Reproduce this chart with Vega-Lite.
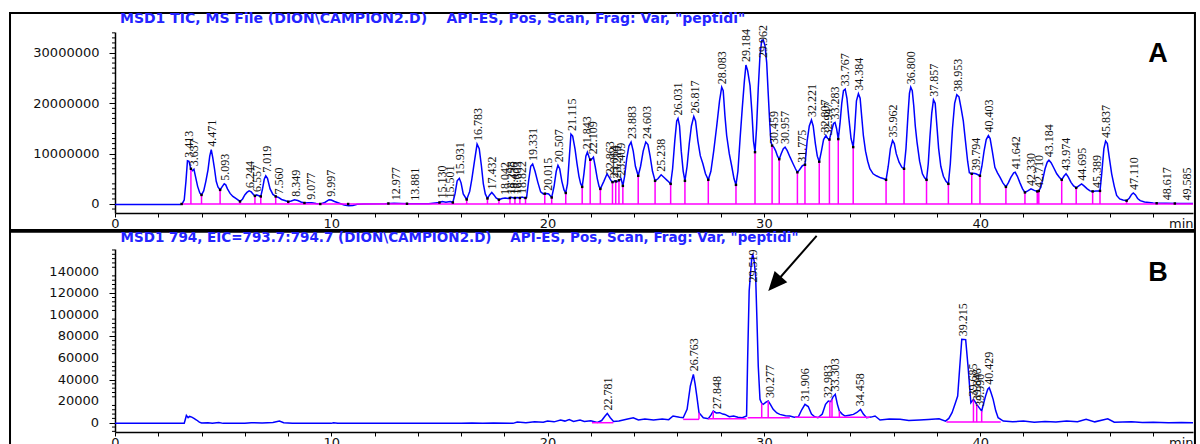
{
  "$schema": "https://vega.github.io/schema/vega-lite/v6.json",
  "background": "white",
  "padding": {"left": 9, "top": 11, "right": 0, "bottom": 0},
  "spacing": -2,
  "config": {
    "view": {"stroke": null},
    "axis": {
      "grid": false,
      "labelFont": "DejaVu Sans",
      "labelFontSize": 13,
      "labelColor": "#111111",
      "domainColor": "#000000",
      "domainWidth": 1.5,
      "tickColor": "#000000",
      "tickWidth": 1,
      "labelOverlap": false,
      "labelFlush": false
    }
  },
  "datasets": {
    "frameA": [{"x0": -4.854, "x1": 49.93, "y0": -5170000, "y1": 37950000}],
    "frameB": [{"x0": -4.854, "x1": 49.93, "y0": -24100, "y1": 176900}],
    "arrowB": [{"t0": 32.44, "t1": 30.57, "v0": 173100, "v1": 130340}],
    "minorA": [
      {"v":-1000000},{"v":1000000},{"v":2000000},{"v":3000000},{"v":4000000},{"v":6000000},{"v":7000000},{"v":8000000},{"v":9000000},{"v":11000000},{"v":12000000},{"v":13000000},{"v":14000000},{"v":16000000},{"v":17000000},{"v":18000000},{"v":19000000},{"v":21000000},{"v":22000000},{"v":23000000},{"v":24000000},{"v":26000000},{"v":27000000},{"v":28000000},{"v":29000000},{"v":31000000},{"v":32000000},{"v":33000000},{"v":34000000}
    ],
    "minorB": [
      {"v":-8000},{"v":-4000},{"v":4000},{"v":8000},{"v":12000},{"v":16000},{"v":24000},{"v":28000},{"v":32000},{"v":36000},{"v":44000},{"v":48000},{"v":52000},{"v":56000},{"v":64000},{"v":68000},{"v":72000},{"v":76000},{"v":84000},{"v":88000},{"v":92000},{"v":96000},{"v":104000},{"v":108000},{"v":112000},{"v":116000},{"v":124000},{"v":128000},{"v":132000},{"v":136000},{"v":144000},{"v":148000},{"v":152000},{"v":156000},{"v":160000}
    ],
    "majorB": [
      {"v":0},{"v":20000},{"v":40000},{"v":60000},{"v":80000},{"v":100000},{"v":120000},{"v":140000}
    ],
    "traceA": [
      {"t":0,"v":-100000},{"t":3.0,"v":-100000},{"t":3.1,"v":0},{"t":3.2,"v":800000},{"t":3.28,"v":4500000},{"t":3.35,"v":8600000},{"t":3.42,"v":8500000},{"t":3.5,"v":7000000},{"t":3.58,"v":6600000},{"t":3.65,"v":6900000},{"t":3.72,"v":5500000},{"t":3.82,"v":3500000},{"t":3.92,"v":2200000},{"t":4.0,"v":1800000},{"t":4.1,"v":2600000},{"t":4.2,"v":4500000},{"t":4.3,"v":6800000},{"t":4.38,"v":9500000},{"t":4.45,"v":10800000},{"t":4.52,"v":9200000},{"t":4.6,"v":7000000},{"t":4.68,"v":4500000},{"t":4.76,"v":3400000},{"t":4.86,"v":2800000},{"t":4.95,"v":3400000},{"t":5.05,"v":4000000},{"t":5.12,"v":3800000},{"t":5.2,"v":3000000},{"t":5.32,"v":2100000},{"t":5.45,"v":1500000},{"t":5.62,"v":1000000},{"t":5.78,"v":500000},{"t":5.9,"v":1000000},{"t":6.0,"v":1800000},{"t":6.1,"v":2300000},{"t":6.2,"v":2600000},{"t":6.3,"v":2400000},{"t":6.4,"v":1900000},{"t":6.47,"v":1600000},{"t":6.55,"v":1800000},{"t":6.62,"v":1700000},{"t":6.74,"v":1500000},{"t":6.82,"v":3000000},{"t":6.9,"v":4900000},{"t":6.97,"v":5600000},{"t":7.05,"v":5100000},{"t":7.17,"v":3000000},{"t":7.3,"v":1900000},{"t":7.43,"v":1500000},{"t":7.56,"v":1300000},{"t":7.7,"v":900000},{"t":7.85,"v":700000},{"t":8.01,"v":450000},{"t":8.15,"v":600000},{"t":8.3,"v":850000},{"t":8.45,"v":700000},{"t":8.6,"v":400000},{"t":8.76,"v":200000},{"t":8.95,"v":250000},{"t":9.1,"v":250000},{"t":9.3,"v":100000},{"t":9.5,"v":0},{"t":9.7,"v":300000},{"t":9.9,"v":850000},{"t":10.0,"v":800000},{"t":10.15,"v":500000},{"t":10.4,"v":100000},{"t":10.6,"v":-200000},{"t":10.8,"v":-350000},{"t":11.0,"v":-300000},{"t":11.2,"v":-50000},{"t":11.5,"v":0},{"t":12.5,"v":50000},{"t":12.9,"v":150000},{"t":13.2,"v":100000},{"t":13.6,"v":50000},{"t":14.5,"v":50000},{"t":15.0,"v":300000},{"t":15.13,"v":500000},{"t":15.3,"v":350000},{"t":15.5,"v":500000},{"t":15.62,"v":300000},{"t":15.72,"v":2000000},{"t":15.82,"v":4600000},{"t":15.92,"v":5100000},{"t":16.0,"v":4200000},{"t":16.1,"v":2000000},{"t":16.26,"v":900000},{"t":16.4,"v":2500000},{"t":16.5,"v":5000000},{"t":16.62,"v":8500000},{"t":16.74,"v":11900000},{"t":16.84,"v":11000000},{"t":16.94,"v":7600000},{"t":17.03,"v":4000000},{"t":17.12,"v":2000000},{"t":17.22,"v":1100000},{"t":17.32,"v":1800000},{"t":17.42,"v":2300000},{"t":17.52,"v":1800000},{"t":17.62,"v":1200000},{"t":17.75,"v":850000},{"t":17.9,"v":1100000},{"t":18.04,"v":1200000},{"t":18.18,"v":1100000},{"t":18.3,"v":1350000},{"t":18.45,"v":1200000},{"t":18.6,"v":1300000},{"t":18.72,"v":1200000},{"t":18.82,"v":1400000},{"t":18.95,"v":1200000},{"t":19.03,"v":1300000},{"t":19.12,"v":4500000},{"t":19.22,"v":7500000},{"t":19.31,"v":7950000},{"t":19.42,"v":6500000},{"t":19.55,"v":4300000},{"t":19.68,"v":2400000},{"t":19.8,"v":2000000},{"t":19.95,"v":2100000},{"t":20.05,"v":2000000},{"t":20.19,"v":1300000},{"t":20.3,"v":3500000},{"t":20.4,"v":6500000},{"t":20.48,"v":7700000},{"t":20.56,"v":7000000},{"t":20.66,"v":4500000},{"t":20.76,"v":2800000},{"t":20.84,"v":2200000},{"t":20.92,"v":4000000},{"t":21.0,"v":9000000},{"t":21.08,"v":13900000},{"t":21.16,"v":13500000},{"t":21.27,"v":10900000},{"t":21.36,"v":8000000},{"t":21.45,"v":5500000},{"t":21.53,"v":4000000},{"t":21.6,"v":3400000},{"t":21.68,"v":6000000},{"t":21.77,"v":9500000},{"t":21.84,"v":10300000},{"t":21.92,"v":9300000},{"t":21.98,"v":8700000},{"t":22.06,"v":9000000},{"t":22.12,"v":9300000},{"t":22.2,"v":7500000},{"t":22.3,"v":5000000},{"t":22.38,"v":3500000},{"t":22.44,"v":3000000},{"t":22.6,"v":4500000},{"t":22.75,"v":6000000},{"t":22.85,"v":5300000},{"t":22.94,"v":4600000},{"t":23.02,"v":4300000},{"t":23.1,"v":4600000},{"t":23.2,"v":4400000},{"t":23.3,"v":4700000},{"t":23.4,"v":5000000},{"t":23.48,"v":3600000},{"t":23.56,"v":5500000},{"t":23.66,"v":9000000},{"t":23.76,"v":11500000},{"t":23.86,"v":12300000},{"t":23.96,"v":10500000},{"t":24.06,"v":7500000},{"t":24.19,"v":5600000},{"t":24.3,"v":7500000},{"t":24.42,"v":10500000},{"t":24.54,"v":12300000},{"t":24.64,"v":11800000},{"t":24.74,"v":9500000},{"t":24.85,"v":6500000},{"t":24.97,"v":4600000},{"t":25.1,"v":5000000},{"t":25.25,"v":5800000},{"t":25.4,"v":5200000},{"t":25.55,"v":4600000},{"t":25.69,"v":4000000},{"t":25.78,"v":7000000},{"t":25.88,"v":12500000},{"t":25.97,"v":16500000},{"t":26.03,"v":17000000},{"t":26.1,"v":15500000},{"t":26.18,"v":10500000},{"t":26.27,"v":6500000},{"t":26.35,"v":4600000},{"t":26.45,"v":7500000},{"t":26.55,"v":12000000},{"t":26.65,"v":15500000},{"t":26.76,"v":17400000},{"t":26.84,"v":16500000},{"t":26.95,"v":12500000},{"t":27.06,"v":9600000},{"t":27.18,"v":8000000},{"t":27.3,"v":6000000},{"t":27.43,"v":4800000},{"t":27.55,"v":6500000},{"t":27.68,"v":10500000},{"t":27.82,"v":15500000},{"t":27.95,"v":20500000},{"t":28.05,"v":23200000},{"t":28.12,"v":22500000},{"t":28.2,"v":17500000},{"t":28.28,"v":13600000},{"t":28.4,"v":10000000},{"t":28.51,"v":7600000},{"t":28.62,"v":5000000},{"t":28.71,"v":3800000},{"t":28.8,"v":6500000},{"t":28.9,"v":13000000},{"t":29.0,"v":19000000},{"t":29.1,"v":24500000},{"t":29.17,"v":27600000},{"t":29.25,"v":26500000},{"t":29.36,"v":23500000},{"t":29.45,"v":18000000},{"t":29.52,"v":12500000},{"t":29.59,"v":10300000},{"t":29.66,"v":15000000},{"t":29.74,"v":23000000},{"t":29.82,"v":29500000},{"t":29.9,"v":32500000},{"t":29.97,"v":32600000},{"t":30.05,"v":31500000},{"t":30.13,"v":28100000},{"t":30.2,"v":22000000},{"t":30.26,"v":17000000},{"t":30.32,"v":12500000},{"t":30.38,"v":11600000},{"t":30.46,"v":11300000},{"t":30.55,"v":10500000},{"t":30.63,"v":9500000},{"t":30.71,"v":8900000},{"t":30.8,"v":10000000},{"t":30.9,"v":11000000},{"t":30.98,"v":11300000},{"t":31.08,"v":10600000},{"t":31.21,"v":9300000},{"t":31.35,"v":8000000},{"t":31.46,"v":7000000},{"t":31.55,"v":6300000},{"t":31.65,"v":6800000},{"t":31.78,"v":7600000},{"t":31.9,"v":7800000},{"t":32.0,"v":12500000},{"t":32.1,"v":15500000},{"t":32.2,"v":16700000},{"t":32.28,"v":15500000},{"t":32.38,"v":12000000},{"t":32.47,"v":9500000},{"t":32.56,"v":8400000},{"t":32.66,"v":10500000},{"t":32.76,"v":12800000},{"t":32.87,"v":13600000},{"t":32.95,"v":13000000},{"t":33.03,"v":12800000},{"t":33.13,"v":14500000},{"t":33.22,"v":16000000},{"t":33.29,"v":16200000},{"t":33.36,"v":15000000},{"t":33.44,"v":12900000},{"t":33.52,"v":16000000},{"t":33.6,"v":20000000},{"t":33.68,"v":22500000},{"t":33.76,"v":22800000},{"t":33.84,"v":21000000},{"t":33.93,"v":17000000},{"t":34.03,"v":13000000},{"t":34.13,"v":11300000},{"t":34.2,"v":15000000},{"t":34.28,"v":20500000},{"t":34.37,"v":21900000},{"t":34.45,"v":21000000},{"t":34.52,"v":17500000},{"t":34.6,"v":13600000},{"t":34.7,"v":10500000},{"t":34.8,"v":8500000},{"t":34.9,"v":7000000},{"t":35.05,"v":6000000},{"t":35.2,"v":5600000},{"t":35.4,"v":5200000},{"t":35.55,"v":5000000},{"t":35.65,"v":4800000},{"t":35.75,"v":7500000},{"t":35.85,"v":11000000},{"t":35.95,"v":12600000},{"t":36.03,"v":12000000},{"t":36.12,"v":10000000},{"t":36.25,"v":8300000},{"t":36.38,"v":7300000},{"t":36.48,"v":7000000},{"t":36.57,"v":11000000},{"t":36.66,"v":17500000},{"t":36.73,"v":22000000},{"t":36.79,"v":23200000},{"t":36.86,"v":22500000},{"t":36.93,"v":19500000},{"t":37.0,"v":15500000},{"t":37.08,"v":12300000},{"t":37.2,"v":8500000},{"t":37.33,"v":6000000},{"t":37.43,"v":5200000},{"t":37.52,"v":4800000},{"t":37.6,"v":8000000},{"t":37.68,"v":13500000},{"t":37.76,"v":18000000},{"t":37.84,"v":20700000},{"t":37.92,"v":20000000},{"t":38.0,"v":15500000},{"t":38.08,"v":11000000},{"t":38.18,"v":7500000},{"t":38.3,"v":5500000},{"t":38.42,"v":4500000},{"t":38.53,"v":4000000},{"t":38.62,"v":8000000},{"t":38.72,"v":15000000},{"t":38.82,"v":20000000},{"t":38.92,"v":21700000},{"t":39.02,"v":21300000},{"t":39.12,"v":19000000},{"t":39.22,"v":16500000},{"t":39.32,"v":12500000},{"t":39.42,"v":8500000},{"t":39.5,"v":6200000},{"t":39.61,"v":6000000},{"t":39.7,"v":6100000},{"t":39.8,"v":6000000},{"t":39.9,"v":5800000},{"t":39.99,"v":5600000},{"t":40.08,"v":7500000},{"t":40.18,"v":10500000},{"t":40.28,"v":12800000},{"t":40.38,"v":13600000},{"t":40.46,"v":13000000},{"t":40.56,"v":10500000},{"t":40.68,"v":7300000},{"t":40.8,"v":6200000},{"t":40.92,"v":5300000},{"t":41.05,"v":4200000},{"t":41.19,"v":3400000},{"t":41.3,"v":4200000},{"t":41.42,"v":5300000},{"t":41.55,"v":6200000},{"t":41.62,"v":6300000},{"t":41.72,"v":5500000},{"t":41.84,"v":4200000},{"t":41.96,"v":3000000},{"t":42.07,"v":2300000},{"t":42.2,"v":2600000},{"t":42.35,"v":3000000},{"t":42.5,"v":2700000},{"t":42.64,"v":2500000},{"t":42.71,"v":2600000},{"t":42.8,"v":3300000},{"t":42.9,"v":5000000},{"t":43.0,"v":7000000},{"t":43.1,"v":8300000},{"t":43.18,"v":8700000},{"t":43.28,"v":8200000},{"t":43.4,"v":7200000},{"t":43.54,"v":6000000},{"t":43.66,"v":5300000},{"t":43.77,"v":4800000},{"t":43.87,"v":5500000},{"t":43.97,"v":6000000},{"t":44.07,"v":5400000},{"t":44.2,"v":4300000},{"t":44.32,"v":3600000},{"t":44.44,"v":3200000},{"t":44.56,"v":3600000},{"t":44.69,"v":4000000},{"t":44.8,"v":3600000},{"t":44.95,"v":3000000},{"t":45.08,"v":2600000},{"t":45.2,"v":2500000},{"t":45.35,"v":2600000},{"t":45.45,"v":2600000},{"t":45.54,"v":2600000},{"t":45.62,"v":6000000},{"t":45.72,"v":11000000},{"t":45.8,"v":12500000},{"t":45.88,"v":12000000},{"t":45.96,"v":9500000},{"t":46.08,"v":6000000},{"t":46.2,"v":3500000},{"t":46.31,"v":1700000},{"t":46.45,"v":1000000},{"t":46.6,"v":800000},{"t":46.77,"v":660000},{"t":46.9,"v":1200000},{"t":47.0,"v":1900000},{"t":47.08,"v":2200000},{"t":47.18,"v":1800000},{"t":47.28,"v":1100000},{"t":47.4,"v":660000},{"t":47.6,"v":400000},{"t":48.0,"v":200000},{"t":48.6,"v":150000},{"t":49.2,"v":100000},{"t":49.84,"v":100000}
    ],
    "baseA": [
      {"t0":3.08,"t1":49.84,"b":0}
    ],
    "cutsA": [
      {"t":3.08,"b":0,"h":0},{"t":3.51,"b":0,"h":7000000},{"t":4.0,"b":0,"h":1800000},{"t":4.86,"b":0,"h":2800000},{"t":5.78,"b":0,"h":500000},{"t":6.47,"b":0,"h":1600000},{"t":6.74,"b":0,"h":1500000},{"t":7.43,"b":0,"h":1500000},{"t":8.01,"b":0,"h":450000},{"t":8.76,"b":0,"h":200000},{"t":9.49,"b":0,"h":0},{"t":10.78,"b":0,"h":0},{"t":12.64,"b":0,"h":100000},{"t":13.5,"b":0,"h":50000},{"t":15.0,"b":0,"h":300000},{"t":15.62,"b":0,"h":300000},{"t":16.26,"b":0,"h":900000},{"t":17.22,"b":0,"h":1100000},{"t":17.75,"b":0,"h":850000},{"t":18.26,"b":0,"h":1200000},{"t":18.49,"b":0,"h":1200000},{"t":18.72,"b":0,"h":1200000},{"t":18.98,"b":0,"h":1200000},{"t":19.87,"b":0,"h":2050000},{"t":20.19,"b":0,"h":1300000},{"t":20.84,"b":0,"h":2200000},{"t":21.6,"b":0,"h":3400000},{"t":21.97,"b":0,"h":8800000},{"t":22.44,"b":0,"h":3000000},{"t":23.0,"b":0,"h":4350000},{"t":23.15,"b":0,"h":4500000},{"t":23.3,"b":0,"h":4700000},{"t":23.48,"b":0,"h":3600000},{"t":24.19,"b":0,"h":5600000},{"t":24.97,"b":0,"h":4600000},{"t":25.69,"b":0,"h":4000000},{"t":26.35,"b":0,"h":4600000},{"t":27.43,"b":0,"h":4800000},{"t":28.71,"b":0,"h":3800000},{"t":29.59,"b":0,"h":10300000},{"t":30.38,"b":0,"h":11600000},{"t":30.71,"b":0,"h":8900000},{"t":31.55,"b":0,"h":6300000},{"t":31.9,"b":0,"h":7800000},{"t":32.56,"b":0,"h":8400000},{"t":33.03,"b":0,"h":12800000},{"t":33.44,"b":0,"h":12900000},{"t":34.13,"b":0,"h":11300000},{"t":35.65,"b":0,"h":4800000},{"t":36.48,"b":0,"h":7000000},{"t":37.52,"b":0,"h":4800000},{"t":38.53,"b":0,"h":4000000},{"t":39.61,"b":0,"h":6000000},{"t":39.99,"b":0,"h":5600000},{"t":41.19,"b":0,"h":3400000},{"t":42.07,"b":0,"h":2300000},{"t":42.64,"b":0,"h":2500000},{"t":42.71,"b":0,"h":2600000},{"t":43.77,"b":0,"h":4800000},{"t":44.44,"b":0,"h":3200000},{"t":45.2,"b":0,"h":2500000},{"t":45.54,"b":0,"h":2600000},{"t":46.77,"b":0,"h":660000},{"t":48.16,"b":0,"h":150000},{"t":49.0,"b":0,"h":100000}
    ],
    "peaksA": [
      {"t":3.413,"h":8600000},{"t":3.637,"h":6900000},{"t":4.471,"h":10800000},{"t":5.093,"h":4000000},{"t":6.244,"h":2600000},{"t":6.557,"h":1800000},{"t":7.019,"h":5600000},{"t":7.56,"h":1300000},{"t":8.349,"h":850000},{"t":9.077,"h":250000},{"t":9.997,"h":850000},{"t":12.977,"h":150000},{"t":13.881,"h":50000},{"t":15.13,"h":500000},{"t":15.501,"h":500000},{"t":15.931,"h":5100000},{"t":16.783,"h":11900000},{"t":17.432,"h":2300000},{"t":18.042,"h":1200000},{"t":18.298,"h":1350000},{"t":18.436,"h":1250000},{"t":18.603,"h":1300000},{"t":18.822,"h":1400000},{"t":19.331,"h":7950000},{"t":20.015,"h":2050000},{"t":20.507,"h":7700000},{"t":21.115,"h":13900000},{"t":21.843,"h":10300000},{"t":22.109,"h":9300000},{"t":22.863,"h":5300000},{"t":23.064,"h":4500000},{"t":23.219,"h":4450000},{"t":23.409,"h":5000000},{"t":23.883,"h":12300000},{"t":24.603,"h":12300000},{"t":25.238,"h":5800000},{"t":26.031,"h":17000000},{"t":26.817,"h":17400000},{"t":28.083,"h":23200000},{"t":29.184,"h":27600000},{"t":29.962,"h":32600000},{"t":30.459,"h":11300000},{"t":30.957,"h":11300000},{"t":31.775,"h":7600000},{"t":32.221,"h":16700000},{"t":32.807,"h":13600000},{"t":32.947,"h":13000000},{"t":33.283,"h":16200000},{"t":33.767,"h":22800000},{"t":34.384,"h":21900000},{"t":35.962,"h":12600000},{"t":36.8,"h":23200000},{"t":37.857,"h":20700000},{"t":38.953,"h":21700000},{"t":39.794,"h":6000000},{"t":40.403,"h":13600000},{"t":41.642,"h":6300000},{"t":42.33,"h":3000000},{"t":42.71,"h":2600000},{"t":43.184,"h":8700000},{"t":43.974,"h":6000000},{"t":44.695,"h":4000000},{"t":45.389,"h":2600000},{"t":45.837,"h":12500000},{"t":47.11,"h":2200000},{"t":48.617,"h":150000},{"t":49.585,"h":100000}
    ],
    "traceB": [
      {"t":0,"v":-600},{"t":3.2,"v":-600},{"t":3.25,"v":3000},{"t":3.3,"v":6800},{"t":3.38,"v":4600},{"t":3.45,"v":5800},{"t":3.55,"v":5200},{"t":3.65,"v":4000},{"t":3.77,"v":2500},{"t":3.9,"v":600},{"t":4.0,"v":-300},{"t":4.3,"v":0},{"t":4.5,"v":-500},{"t":4.8,"v":200},{"t":5.0,"v":-600},{"t":5.5,"v":-400},{"t":6.0,"v":-600},{"t":6.3,"v":0},{"t":6.8,"v":-300},{"t":7.3,"v":300},{"t":7.6,"v":1500},{"t":7.8,"v":0},{"t":8.2,"v":-600},{"t":10.0,"v":-600},{"t":10.1,"v":0},{"t":10.3,"v":-600},{"t":16.0,"v":-600},{"t":16.5,"v":-300},{"t":17.0,"v":-600},{"t":17.5,"v":-300},{"t":18.4,"v":-600},{"t":18.6,"v":600},{"t":19.0,"v":0},{"t":19.4,"v":800},{"t":19.8,"v":500},{"t":20.0,"v":1500},{"t":20.3,"v":800},{"t":20.6,"v":2500},{"t":20.8,"v":1500},{"t":21.0,"v":3000},{"t":21.2,"v":1200},{"t":21.5,"v":2500},{"t":21.7,"v":1200},{"t":22.0,"v":1800},{"t":22.3,"v":300},{"t":22.5,"v":2000},{"t":22.65,"v":6000},{"t":22.76,"v":8600},{"t":22.9,"v":4600},{"t":23.05,"v":1200},{"t":23.3,"v":1500},{"t":23.6,"v":3000},{"t":23.96,"v":4600},{"t":24.2,"v":2500},{"t":24.5,"v":3500},{"t":24.9,"v":2500},{"t":25.3,"v":3500},{"t":25.6,"v":2800},{"t":25.8,"v":6200},{"t":26.1,"v":5000},{"t":26.27,"v":4600},{"t":26.45,"v":12400},{"t":26.6,"v":34000},{"t":26.74,"v":44800},{"t":26.82,"v":36000},{"t":26.9,"v":24700},{"t":27.0,"v":9300},{"t":27.2,"v":4600},{"t":27.43,"v":3700},{"t":27.55,"v":7000},{"t":27.66,"v":10800},{"t":27.8,"v":9000},{"t":27.96,"v":9300},{"t":28.1,"v":8000},{"t":28.2,"v":7700},{"t":28.4,"v":5500},{"t":28.6,"v":6200},{"t":28.8,"v":5000},{"t":29.0,"v":4600},{"t":29.2,"v":6200},{"t":29.25,"v":60000},{"t":29.32,"v":122000},{"t":29.42,"v":148000},{"t":29.48,"v":156500},{"t":29.55,"v":150000},{"t":29.62,"v":135000},{"t":29.68,"v":95000},{"t":29.74,"v":52500},{"t":29.82,"v":21600},{"t":29.9,"v":18000},{"t":29.97,"v":17000},{"t":30.1,"v":19000},{"t":30.2,"v":20100},{"t":30.3,"v":17000},{"t":30.43,"v":12400},{"t":30.6,"v":9000},{"t":30.74,"v":7700},{"t":31.0,"v":6500},{"t":31.2,"v":6200},{"t":31.4,"v":5000},{"t":31.6,"v":5600},{"t":31.75,"v":12000},{"t":31.9,"v":17000},{"t":32.05,"v":15000},{"t":32.2,"v":8000},{"t":32.35,"v":5500},{"t":32.5,"v":4600},{"t":32.7,"v":8000},{"t":32.85,"v":17000},{"t":32.98,"v":20100},{"t":33.1,"v":19500},{"t":33.2,"v":24000},{"t":33.3,"v":26300},{"t":33.4,"v":17000},{"t":33.49,"v":10800},{"t":33.62,"v":8000},{"t":33.75,"v":6200},{"t":33.95,"v":7000},{"t":34.14,"v":7700},{"t":34.3,"v":9500},{"t":34.47,"v":12400},{"t":34.6,"v":8000},{"t":34.75,"v":4600},{"t":34.95,"v":5200},{"t":35.14,"v":6200},{"t":35.37,"v":2500},{"t":35.8,"v":3500},{"t":36.3,"v":3100},{"t":36.7,"v":2000},{"t":37.2,"v":2500},{"t":37.6,"v":3000},{"t":38.1,"v":3700},{"t":38.4,"v":1500},{"t":38.55,"v":4000},{"t":38.7,"v":9300},{"t":38.85,"v":18000},{"t":38.96,"v":24700},{"t":39.05,"v":50000},{"t":39.15,"v":77300},{"t":39.33,"v":77000},{"t":39.45,"v":49500},{"t":39.57,"v":18500},{"t":39.69,"v":21600},{"t":39.78,"v":19000},{"t":39.84,"v":17000},{"t":39.95,"v":14000},{"t":40.07,"v":10800},{"t":40.16,"v":18000},{"t":40.25,"v":24700},{"t":40.35,"v":31000},{"t":40.42,"v":32500},{"t":40.5,"v":28000},{"t":40.6,"v":21600},{"t":40.72,"v":11000},{"t":40.83,"v":4600},{"t":41.07,"v":1500},{"t":41.5,"v":800},{"t":42.0,"v":1500},{"t":42.5,"v":500},{"t":43.0,"v":1200},{"t":43.5,"v":600},{"t":44.0,"v":1500},{"t":44.5,"v":900},{"t":44.9,"v":3100},{"t":45.3,"v":800},{"t":45.9,"v":3700},{"t":46.2,"v":500},{"t":47.0,"v":800},{"t":47.5,"v":300},{"t":48.0,"v":500},{"t":48.7,"v":0},{"t":49.3,"v":300},{"t":49.84,"v":0}
    ],
    "baseB": [
      {"t0":22.05,"t1":23.04,"b":0},{"t0":26.27,"t1":27.0,"b":3100},{"t0":27.43,"t1":29.2,"b":3700},{"t0":29.25,"t1":31.2,"b":4600},{"t0":31.45,"t1":34.9,"b":5000},{"t0":38.44,"t1":40.95,"b":600}
    ],
    "cutsB": [
      {"t":27.0,"b":3100,"h":9300},{"t":27.66,"b":3700,"h":10800},{"t":29.9,"b":4600,"h":18000},{"t":30.2,"b":4600,"h":20100},{"t":33.05,"b":5000,"h":19800},{"t":33.15,"b":5000,"h":21500},{"t":33.49,"b":5000,"h":10800},{"t":39.69,"b":600,"h":21600},{"t":39.84,"b":600,"h":17000},{"t":40.07,"b":600,"h":10800}
    ],
    "peaksB": [
      {"t":22.781,"h":8600},{"t":26.763,"h":44800},{"t":27.848,"h":10000},{"t":29.519,"h":156500},{"t":30.277,"h":20100},{"t":31.906,"h":17000},{"t":32.983,"h":20100},{"t":33.303,"h":26300},{"t":34.458,"h":12400},{"t":39.215,"h":77300},{"t":39.685,"h":21600},{"t":39.846,"h":17000},{"t":39.99,"h":12000},{"t":40.429,"h":32500}
    ]
  },
  "vconcat": [
    {
      "width": 1078,
      "height": 181,
      "layer": [
        {
          "data": {"name": "frameA"},
          "mark": {"type": "rect", "filled": false, "stroke": "#000000", "strokeWidth": 2, "clip": false},
          "encoding": {
            "x": {"field": "x0", "type": "quantitative"},
            "x2": {"field": "x1"},
            "y": {"field": "y0", "type": "quantitative"},
            "y2": {"field": "y1"}
          }
        },
        {
          "data": {"name": "traceA"},
          "mark": {"type": "line", "color": "#0000ff", "strokeWidth": 1.5, "clip": true},
          "encoding": {
            "x": {
              "field": "t", "type": "quantitative",
              "scale": {"domain": [0, 49.84], "nice": false, "zero": false},
              "axis": {
                "values": [0,2,4,6,8,10,12,14,16,18,20,22,24,26,28,30,32,34,36,38,40,42,44,46,48],
                "labelExpr": "datum.value % 10 === 0 ? datum.label : ''",
                "labelOverlap": false, "labelFlush": false,
                "tickSize": 4, "labelPadding": 0,
                "title": "min", "titleAnchor": "end", "titleAlign": "right",
                "titleX": 1078, "titleY": 14, "titleBaseline": "alphabetic",
                "titleFont": "DejaVu Sans", "titleFontSize": 13, "titleFontWeight": "normal", "titleColor": "#111111"
              }
            },
            "y": {
              "field": "v", "type": "quantitative",
              "scale": {"domain": [-1790000, 34170000], "nice": false, "zero": false},
              "axis": {
                "values": [0,5000000,10000000,15000000,20000000,25000000,30000000],
                "format": "d",
                "labelOverlap": false, "labelFlush": false,
                "tickSize": 6,
                "labelPadding": 10,
                "title": null
              }
            }
          }
        },
        {
          "data": {"name": "minorA"},
          "mark": {"type": "tick", "orient": "horizontal", "size": 3, "thickness": 1, "color": "#000000", "opacity": 1, "xOffset": -1.5, "clip": false},
          "encoding": {
            "x": {"datum": 0, "type": "quantitative"},
            "y": {"field": "v", "type": "quantitative"}
          }
        },
        {
          "data": {"name": "baseA"},
          "mark": {"type": "rule", "color": "#ff00ff", "strokeWidth": 1.5},
          "encoding": {
            "x": {"field": "t0", "type": "quantitative"},
            "x2": {"field": "t1"},
            "y": {"field": "b", "type": "quantitative"}
          }
        },
        {
          "data": {"name": "cutsA"},
          "mark": {"type": "rule", "color": "#ff00ff", "strokeWidth": 1.5},
          "encoding": {
            "x": {"field": "t", "type": "quantitative"},
            "y": {"field": "b", "type": "quantitative"},
            "y2": {"field": "h"}
          }
        },
        {
          "data": {"name": "cutsA"},
          "mark": {"type": "square", "color": "#000000", "size": 6, "opacity": 1},
          "encoding": {
            "x": {"field": "t", "type": "quantitative"},
            "y": {"field": "h", "type": "quantitative"}
          }
        },
        {
          "data": {"name": "peaksA"},
          "transform": [{"filter": "datum.h < 28000000"}],
          "mark": {"type": "text", "angle": 270, "align": "left", "baseline": "middle", "dx": 3, "font": "Liberation Sans Narrow", "fontSize": 12, "color": "#111111", "clip": false},
          "encoding": {
            "x": {"field": "t", "type": "quantitative"},
            "y": {"field": "h", "type": "quantitative"},
            "text": {"field": "t", "type": "quantitative", "format": ".3f"}
          }
        },
        {
          "data": {"name": "peaksA"},
          "transform": [{"filter": "datum.h >= 28000000"}],
          "mark": {"type": "text", "angle": 270, "align": "left", "baseline": "middle", "dx": 3, "font": "Liberation Sans Narrow", "fontSize": 12, "color": "#111111", "clip": false},
          "encoding": {
            "x": {"field": "t", "type": "quantitative"},
            "y": {"datum": 28400000, "type": "quantitative"},
            "text": {"field": "t", "type": "quantitative", "format": ".3f"}
          }
        },
        {
          "data": {"values": [{}]},
          "mark": {"type": "text", "align": "left", "baseline": "middle", "font": "DejaVu Sans", "fontSize": 14, "fontWeight": "bold", "color": "#2424ff", "clip": false,
                   "text": "MSD1 TIC, MS File (DION\\CAMPION2.D) \u00a0\u00a0\u00a0API-ES, Pos, Scan, Frag: Var, \"peptidi\""},
          "encoding": {
            "x": {"datum": 0.23, "type": "quantitative"},
            "y": {"datum": 36700000, "type": "quantitative"}
          }
        },
        {
          "data": {"values": [{}]},
          "mark": {"type": "text", "align": "center", "baseline": "middle", "font": "Liberation Sans", "fontSize": 27, "fontWeight": "bold", "color": "#000000", "clip": false, "text": "A"},
          "encoding": {
            "x": {"datum": 48.22, "type": "quantitative"},
            "y": {"datum": 29800000, "type": "quantitative"}
          }
        }
      ]
    },
    {
      "width": 1078,
      "height": 183,
      "layer": [
        {
          "data": {"name": "frameB"},
          "mark": {"type": "rect", "filled": false, "stroke": "#000000", "strokeWidth": 2, "clip": false},
          "encoding": {
            "x": {"field": "x0", "type": "quantitative"},
            "x2": {"field": "x1"},
            "y": {"field": "y0", "type": "quantitative"},
            "y2": {"field": "y1"}
          }
        },
        {
          "data": {"name": "traceB"},
          "mark": {"type": "line", "color": "#0000ff", "strokeWidth": 1.5, "clip": true},
          "encoding": {
            "x": {
              "field": "t", "type": "quantitative",
              "scale": {"domain": [0, 49.84], "nice": false, "zero": false},
              "axis": {
                "values": [0,2,4,6,8,10,12,14,16,18,20,22,24,26,28,30,32,34,36,38,40,42,44,46,48],
                "labelExpr": "datum.value % 10 === 0 ? datum.label : ''",
                "labelOverlap": false, "labelFlush": false,
                "tickSize": 4, "labelPadding": 0,
                "title": "min", "titleAnchor": "end", "titleAlign": "right",
                "titleX": 1078, "titleY": 14, "titleBaseline": "alphabetic",
                "titleFont": "DejaVu Sans", "titleFontSize": 13, "titleFontWeight": "normal", "titleColor": "#111111"
              }
            },
            "y": {
              "field": "v", "type": "quantitative",
              "scale": {"domain": [-8600, 160900], "nice": false, "zero": false},
              "axis": {
                "values": [0,20000,40000,60000,80000,100000,120000,140000],
                "labels": false,
                "tickSize": 6,
                "title": null
              }
            }
          }
        },
        {
          "data": {"name": "majorB"},
          "mark": {"type": "text", "align": "right", "baseline": "middle", "dx": -16, "font": "DejaVu Sans", "fontSize": 13, "color": "#111111", "clip": false},
          "encoding": {
            "x": {"datum": 0, "type": "quantitative"},
            "y": {"field": "v", "type": "quantitative"},
            "text": {"field": "v", "type": "quantitative", "format": "d"}
          }
        },
        {
          "data": {"name": "minorB"},
          "mark": {"type": "tick", "orient": "horizontal", "size": 3, "thickness": 1, "color": "#000000", "opacity": 1, "xOffset": -1.5, "clip": false},
          "encoding": {
            "x": {"datum": 0, "type": "quantitative"},
            "y": {"field": "v", "type": "quantitative"}
          }
        },
        {
          "data": {"name": "baseB"},
          "mark": {"type": "rule", "color": "#ff00ff", "strokeWidth": 1.5},
          "encoding": {
            "x": {"field": "t0", "type": "quantitative"},
            "x2": {"field": "t1"},
            "y": {"field": "b", "type": "quantitative"}
          }
        },
        {
          "data": {"name": "cutsB"},
          "mark": {"type": "rule", "color": "#ff00ff", "strokeWidth": 1.5},
          "encoding": {
            "x": {"field": "t", "type": "quantitative"},
            "y": {"field": "b", "type": "quantitative"},
            "y2": {"field": "h"}
          }
        },
        {
          "data": {"name": "peaksB"},
          "transform": [{"filter": "datum.h < 150000"}],
          "mark": {"type": "text", "angle": 270, "align": "left", "baseline": "middle", "dx": 3, "font": "Liberation Sans Narrow", "fontSize": 12, "color": "#111111", "clip": false},
          "encoding": {
            "x": {"field": "t", "type": "quantitative"},
            "y": {"field": "h", "type": "quantitative"},
            "text": {"field": "t", "type": "quantitative", "format": ".3f"}
          }
        },
        {
          "data": {"name": "peaksB"},
          "transform": [{"filter": "datum.h >= 150000"}],
          "mark": {"type": "text", "angle": 270, "align": "left", "baseline": "middle", "dx": 3, "font": "Liberation Sans Narrow", "fontSize": 12, "color": "#111111", "clip": false},
          "encoding": {
            "x": {"field": "t", "type": "quantitative"},
            "y": {"datum": 127000, "type": "quantitative"},
            "text": {"field": "t", "type": "quantitative", "format": ".3f"}
          }
        },
        {
          "data": {"name": "arrowB"},
          "mark": {"type": "rule", "color": "#000000", "strokeWidth": 2, "clip": false},
          "encoding": {
            "x": {"field": "t0", "type": "quantitative"},
            "x2": {"field": "t1"},
            "y": {"field": "v0", "type": "quantitative"},
            "y2": {"field": "v1"}
          }
        },
        {
          "data": {"name": "arrowB"},
          "mark": {"type": "point", "shape": "M0,-1L-0.7,0.6L0.7,0.6Z", "filled": true, "color": "#000000", "opacity": 1, "size": 576, "angle": 221.3, "clip": false},
          "encoding": {
            "x": {"field": "t1", "type": "quantitative"},
            "y": {"field": "v1", "type": "quantitative"}
          }
        },
        {
          "data": {"values": [{}]},
          "mark": {"type": "text", "align": "left", "baseline": "middle", "font": "DejaVu Sans", "fontSize": 13.5, "fontWeight": "bold", "color": "#2424ff", "clip": false,
                   "text": "MSD1 794, EIC=793.7:794.7 (DION\\CAMPION2.D) \u00a0\u00a0\u00a0API-ES, Pos, Scan, Frag: Var, \"peptidi\""},
          "encoding": {
            "x": {"datum": 0.26, "type": "quantitative"},
            "y": {"datum": 171000, "type": "quantitative"}
          }
        },
        {
          "data": {"values": [{}]},
          "mark": {"type": "text", "align": "center", "baseline": "middle", "font": "Liberation Sans", "fontSize": 27, "fontWeight": "bold", "color": "#000000", "clip": false, "text": "B"},
          "encoding": {
            "x": {"datum": 48.22, "type": "quantitative"},
            "y": {"datum": 138960, "type": "quantitative"}
          }
        }
      ]
    }
  ]
}
